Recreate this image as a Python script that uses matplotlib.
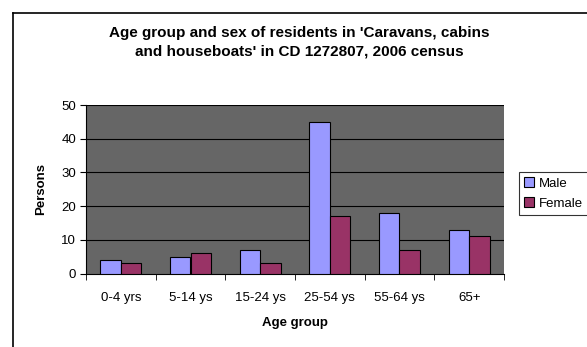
import matplotlib
matplotlib.use("Agg")
import matplotlib.pyplot as plt
import numpy as np
from matplotlib.lines import Line2D

categories = ["0-4 yrs", "5-14 ys", "15-24 ys", "25-54 ys", "55-64 ys", "65+"]
male = [4, 5, 7, 45, 18, 13]
female = [3, 6, 3, 17, 7, 11]
yticks = [0, 10, 20, 30, 40, 50]

plt.rcParams['font.family'] = ['Liberation Sans', 'DejaVu Sans']

W, H = 587, 347
fig = plt.figure(figsize=(W/100, H/100), dpi=100)
ax = fig.add_axes([86/W, 1-273.5/H, (504-86)/W, (273.5-105)/H])
ax.set_facecolor('#666666')

x = np.arange(len(categories))
bw = 0.295
ax.bar(x - bw/2, male, bw, color='#9999FF', edgecolor='black', linewidth=0.8, label='Male', zorder=3)
ax.bar(x + bw/2, female, bw, color='#993366', edgecolor='black', linewidth=0.8, label='Female', zorder=3)

ax.set_xlim(-0.5, len(categories) - 0.5)
ax.set_ylim(0, 50)
ax.set_yticks(yticks)
ax.set_yticklabels([str(v) for v in yticks], fontsize=9.5)
for v in yticks[1:]:
    ax.axhline(v, color='black', linewidth=0.8, zorder=1)

ax.set_xticks(x)
ax.set_xticklabels(categories, fontsize=9.5)
ax.tick_params(axis='x', length=0, pad=13)
ax.set_xticks(np.arange(-0.5, len(categories) + 0.5, 1), minor=True)
ax.tick_params(axis='x', which='minor', length=4, direction='out', color='black')
ax.tick_params(axis='y', length=4, direction='out', color='black', pad=3)

for s in ['top', 'right']:
    ax.spines[s].set_visible(False)
ax.spines['left'].set_color('black')
ax.spines['bottom'].set_color('black')

ax.set_xlabel('Age group', fontsize=9.5, fontweight='bold', labelpad=10)
ax.set_ylabel('Persons', fontsize=9.5, fontweight='bold', labelpad=10)

fig.text(0.5 * (12 + 587) / W, 1 - 42.5/H,
         "Age group and sex of residents in 'Caravans, cabins\nand houseboats' in CD 1272807, 2006 census",
         ha='center', va='center', fontsize=11, fontweight='bold', linespacing=1.45)

# chart border (left and top visible)
fig.add_artist(Line2D([12.5/W, 12.5/W], [0, 1 - 12.5/H], transform=fig.transFigure, color='black', linewidth=1.2))
fig.add_artist(Line2D([12.5/W, 1], [1 - 12.5/H, 1 - 12.5/H], transform=fig.transFigure, color='black', linewidth=1.2))

leg = fig.legend(loc='upper left', bbox_to_anchor=(519/W, 1 - 172/H), fontsize=9.5,
                 frameon=True, fancybox=False, edgecolor='black', borderpad=0.4,
                 handlelength=0.7, handleheight=0.7, handletextpad=0.4, labelspacing=0.6,
                 borderaxespad=0)
leg.get_frame().set_linewidth(0.8)

fig.savefig('out.png', dpi=100)
